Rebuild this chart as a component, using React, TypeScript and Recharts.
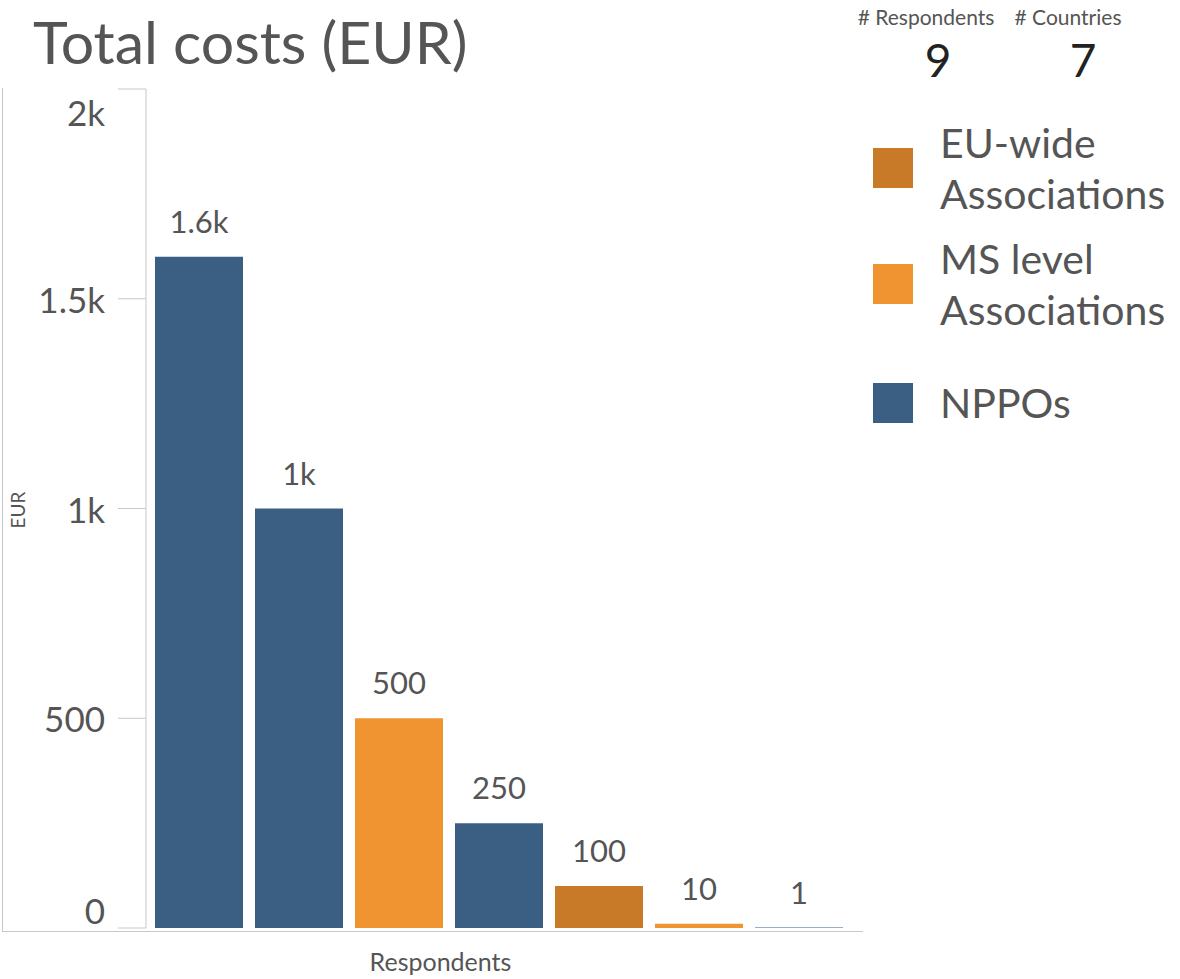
import React from 'react';
import { BarChart, Bar, XAxis, YAxis, Cell, LabelList } from 'recharts';

// respondents, sorted by total cost
const respondents = ['R1', 'R2', 'R3', 'R4', 'R5', 'R6', 'R7'];
const costs = [1600, 1000, 500, 250, 100, 10, 1];
const groups = ['NPPOs', 'NPPOs', 'MS level Associations', 'NPPOs', 'EU-wide Associations', 'MS level Associations', 'NPPOs'];

const legendGroups = ['EU-wide Associations', 'MS level Associations', 'NPPOs'];
const legendLines = [['EU-wide', 'Associations'], ['MS level', 'Associations'], ['NPPOs']];
const groupColors: Record<string, string> = {
    'EU-wide Associations': '#c97a29',
    'MS level Associations': '#f09431',
    'NPPOs': '#3a5f83',
};

const yTicks = [0, 500, 1000, 1500, 2000];
const counterLabels = ['# Respondents', '# Countries'];
const counterValues = ['9', '7'];

const FONT = 'Lato, "Open Sans", sans-serif';
const GREY = '#555';

const data = respondents.map((r, i) => ({ name: r, cost: costs[i], group: groups[i] }));

const fmt = (v: number) => (v >= 1000 ? `${+(v / 1000).toFixed(1)}k` : `${v}`);

// Tableau keeps the end labels inside the pane
const YTick = (props: any) => {
    const { x, y, payload } = props;
    let shift = 0;
    if (payload.value === yTicks[0]) shift = -18;
    if (payload.value === yTicks[yTicks.length - 1]) shift = 23;
    return (
        <text x={x} y={y + shift} textAnchor="end" dominantBaseline="central" fill={GREY} fontSize={35} fontFamily={FONT}>
            {fmt(payload.value)}
        </text>
    );
};

export default function App() {
    return (
        <div style={{ position: 'absolute', left: 0, top: 0, width: 1180, height: 979, background: '#fff', fontFamily: FONT, overflow: 'hidden' }}>
            <div style={{ position: 'absolute', left: 33, top: 6, fontSize: 59, color: GREY, whiteSpace: 'nowrap' }}>Total costs (EUR)</div>

            {counterLabels.map((l, i) => (
                <React.Fragment key={l}>
                    <div style={{ position: 'absolute', left: [926, 1068][i] - 90, top: 4, width: 180, textAlign: 'center', fontSize: 21, color: GREY, whiteSpace: 'nowrap' }}>{l}</div>
                    <div style={{ position: 'absolute', left: [938, 1083][i] - 50, top: 32, width: 100, textAlign: 'center', fontSize: 46, color: '#222' }}>{counterValues[i]}</div>
                </React.Fragment>
            ))}

            {/* pane frame */}
            <div style={{ position: 'absolute', left: 2, top: 88, width: 860, height: 843, borderLeft: '1px solid #c8c8c8', borderBottom: '1px solid #c8c8c8' }} />

            <div style={{ position: 'absolute', left: 0, top: 0 }}>
                <BarChart width={1180} height={979} data={data} margin={{ top: 89, right: 331, bottom: 0, left: 0 }} barCategoryGap={6}>
                    <XAxis
                        dataKey="name"
                        height={51}
                        tick={false}
                        tickLine={false}
                        axisLine={false}
                        padding={{ left: 3, right: 0 }}
                        label={{ value: 'Respondents', position: 'insideBottom', offset: 8, dx: -57, fill: GREY, fontSize: 25, fontFamily: FONT }}
                    />
                    <YAxis
                        width={146}
                        domain={[0, 2000]}
                        ticks={yTicks}
                        tickSize={28}
                        tickMargin={13}
                        tick={<YTick />}
                        tickLine={{ stroke: '#c8c8c8' }}
                        axisLine={{ stroke: '#c8c8c8' }}
                        label={{ value: 'EUR', angle: -90, position: 'insideLeft', offset: 18, dy: 20, fill: GREY, fontSize: 19, fontFamily: FONT }}
                    />
                    <Bar dataKey="cost" isAnimationActive={false}>
                        {data.map(d => (
                            <Cell key={d.name} fill={groupColors[d.group]} />
                        ))}
                        <LabelList dataKey="cost" position="top" offset={24} formatter={(v: any) => fmt(Number(v))} fill={GREY} fontSize={31} fontFamily={FONT} />
                    </Bar>
                </BarChart>
            </div>

            {/* legend */}
            {legendGroups.map((g, i) => (
                <div key={g} style={{ position: 'absolute', left: 873, top: [117, 233, 377][i], display: 'flex', alignItems: 'center' }}>
                    <div style={{ width: 40, height: 40, background: groupColors[g], marginRight: 27 }} />
                    <div style={{ fontSize: 41, lineHeight: '51px', color: GREY }}>
                        {legendLines[i].map(l => (
                            <div key={l} style={{ whiteSpace: 'nowrap' }}>{l}</div>
                        ))}
                    </div>
                </div>
            ))}
        </div>
    );
}
